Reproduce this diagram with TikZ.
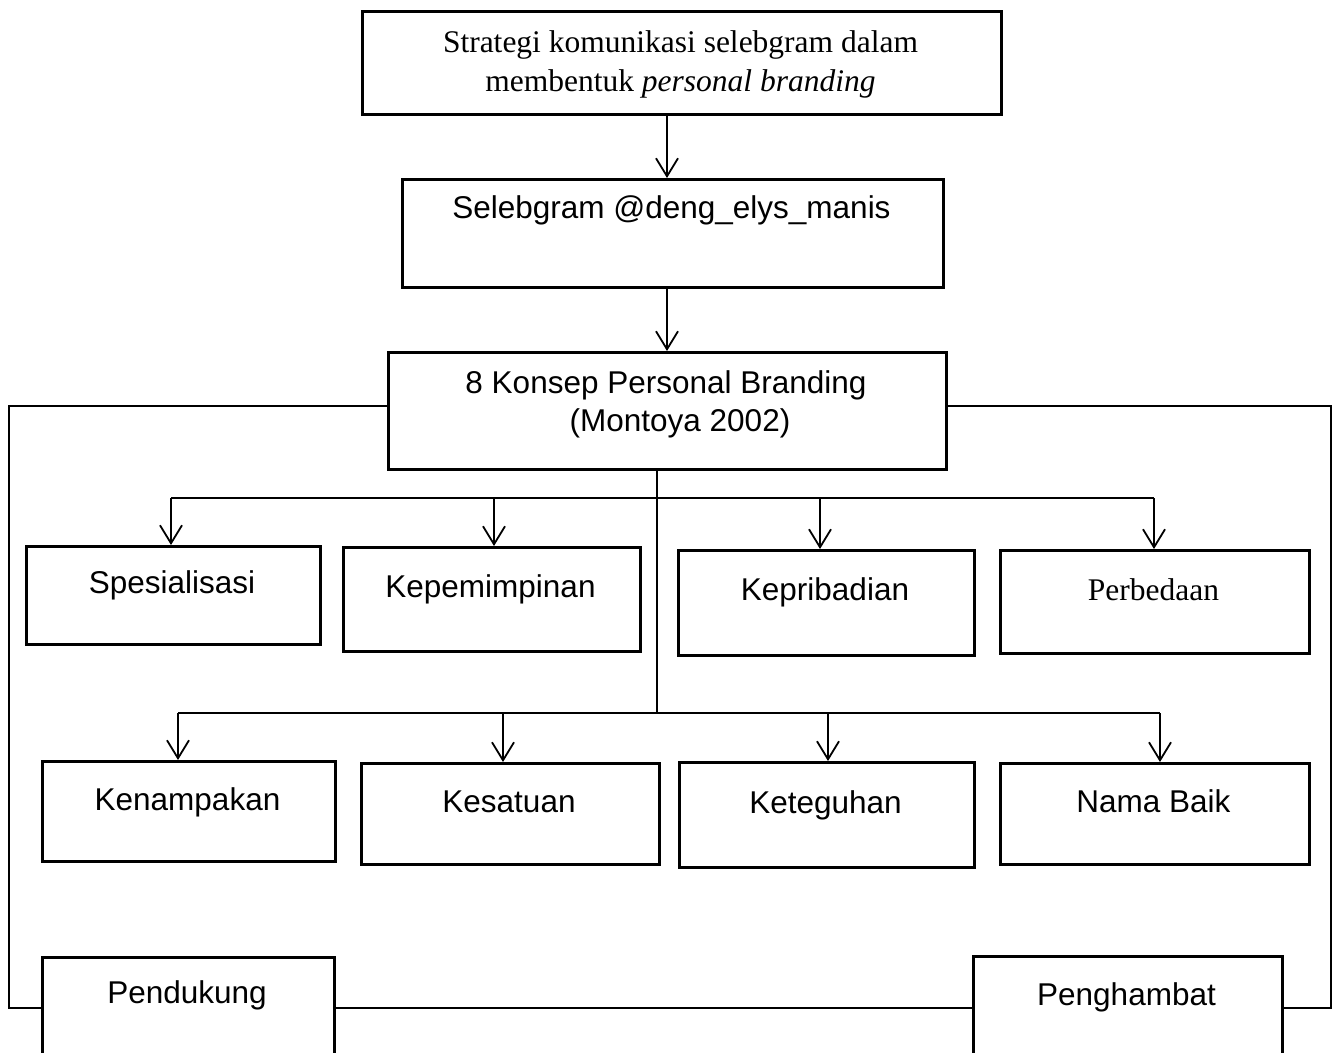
\documentclass[tikz,border=0pt]{standalone}
\usepackage{fontspec}
\setmainfont{Liberation Serif}
\setsansfont{Liberation Sans}
\usetikzlibrary{arrows.meta}
\begin{document}
\begin{tikzpicture}[x=1pt,y=-1pt,
  box/.style={draw, line width=2.6pt, inner sep=0pt, anchor=north west},
  sanstxt/.style={font=\fontsize{31.5}{38}\selectfont\sffamily, inner sep=0pt, anchor=base},
  seriftxt/.style={font=\fontsize{31.5}{38}\selectfont\rmfamily, inner sep=0pt, anchor=base},
  arr/.style={line width=1.8pt, -{Straight Barb[length=18pt,width=22pt,line width=1.8pt]}},
  thinline/.style={line width=1.3pt}]
\useasboundingbox (0,0) rectangle (1333,1052);

% boxes
\node[box, minimum width=639pt, minimum height=103pt] (top) at (361,10) {};
\node[box, minimum width=541pt, minimum height=108pt] (sel) at (401,178) {};
\node[box, minimum width=558pt, minimum height=117pt] (konsep) at (387,351) {};
\node[box, minimum width=294pt, minimum height=98pt] (spes) at (25,545) {};
\node[box, minimum width=297pt, minimum height=104pt] (kepe) at (342,546) {};
\node[box, minimum width=296pt, minimum height=105pt] (kepri) at (677,549) {};
\node[box, minimum width=309pt, minimum height=103pt] (perb) at (999,549) {};
\node[box, minimum width=293pt, minimum height=100pt] (kenam) at (41,760) {};
\node[box, minimum width=298pt, minimum height=101pt] (kesat) at (360,762) {};
\node[box, minimum width=295pt, minimum height=105pt] (keteg) at (678,761) {};
\node[box, minimum width=309pt, minimum height=101pt] (nama) at (999,762) {};
\node[box, minimum width=292pt, minimum height=120pt] (pend) at (41,956) {};
\node[box, minimum width=309pt, minimum height=120pt] (peng) at (972,955) {};

% texts
\node[seriftxt] (ttop1) at (680.5,52) {Strategi komunikasi selebgram dalam};
\node[seriftxt] (ttop2) at (680.5,91) {membentuk \textit{personal branding}};
\node[sanstxt] (tsel) at (671.5,218) {Selebgram @deng\_elys\_manis};
\node[sanstxt] (tkon1) at (666,393) {8 Konsep Personal Branding};
\node[sanstxt] (tkon2) at (680,431) {(Montoya 2002)};
\node[sanstxt] (tspes) at (172,593) {Spesialisasi};
\node[sanstxt] (tkepe) at (490.5,597) {Kepemimpinan};
\node[sanstxt] (tkepri) at (825,600) {Kepribadian};
\node[seriftxt] (tperb) at (1153.5,600) {Perbedaan};
\node[sanstxt] (tkenam) at (187.5,810) {Kenampakan};
\node[sanstxt] (tkesat) at (509,812) {Kesatuan};
\node[sanstxt] (tketeg) at (825.5,813) {Keteguhan};
\node[sanstxt] (tnama) at (1153.5,812) {Nama Baik};
\node[sanstxt] (tpend) at (187,1003) {Pendukung};
\node[sanstxt] (tpeng) at (1126.5,1005) {Penghambat};

% top arrows
\coordinate (a1) at (667,0);
\draw[arr] (a1 |- top.south) -- (a1 |- sel.north);
\draw[arr] (a1 |- sel.south) -- (a1 |- konsep.north);

% central trunk
\coordinate (v) at (657,713);
\draw[thinline] (v |- konsep.south) -- (v);

% row 1 bus
\coordinate (b1) at (171,498);
\coordinate (b2) at (494,498);
\coordinate (b3) at (820,498);
\coordinate (b4) at (1154,498);
\draw[thinline] (b1) -- (b4);
\draw[arr] (b1) -- (b1 |- spes.north);
\draw[arr] (b2) -- (b2 |- kepe.north);
\draw[arr] (b3) -- (b3 |- kepri.north);
\draw[arr] (b4) -- (b4 |- perb.north);

% row 2 bus
\coordinate (c1) at (178,713);
\coordinate (c2) at (503,713);
\coordinate (c3) at (828,713);
\coordinate (c4) at (1160,713);
\draw[thinline] (c1) -- (c4);
\draw[arr] (c1) -- (c1 |- kenam.north);
\draw[arr] (c2) -- (c2 |- kesat.north);
\draw[arr] (c3) -- (c3 |- keteg.north);
\draw[arr] (c4) -- (c4 |- nama.north);

% outer frame lines
\coordinate (L1) at (9,406);
\coordinate (L2) at (9,1008);
\coordinate (R1) at (1331,406);
\coordinate (R2) at (1331,1008);
\draw[thinline] (konsep.west |- L1) -- (L1) -- (L2) -- (pend.west |- L2);
\draw[thinline] (konsep.east |- R1) -- (R1) -- (R2) -- (peng.east |- R2);
\draw[thinline] (pend.east |- L2) -- (peng.west |- L2);
\end{tikzpicture}
\end{document}
